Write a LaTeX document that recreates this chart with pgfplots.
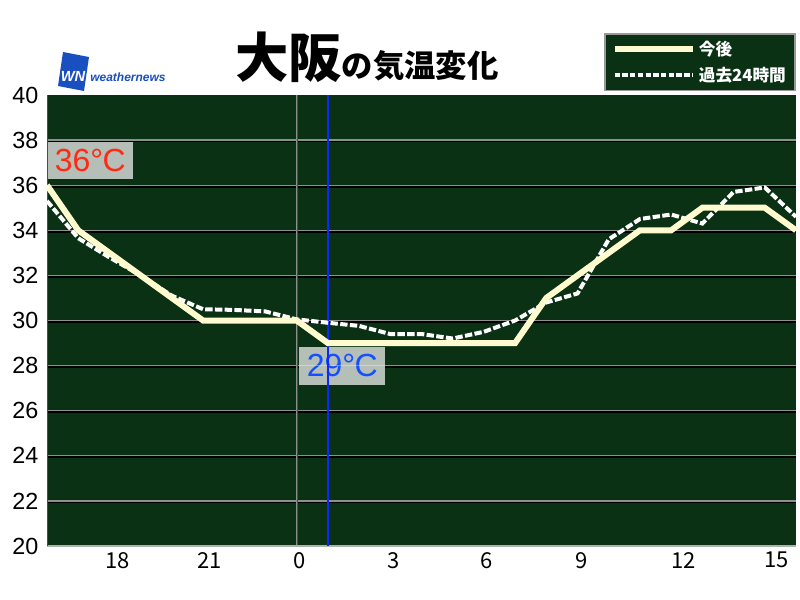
\documentclass[border=0pt]{standalone}
\usepackage{fontspec}
\setmainfont{Liberation Sans}
\newfontfamily\jp{Noto Sans CJK JP}
\usepackage{pgfplots}
\pgfplotsset{compat=1.18}
\definecolor{bggreen}{HTML}{0B3115}
\definecolor{cream}{HTML}{FFFBCF}
\definecolor{boxgray}{HTML}{B5BFB8}
\definecolor{lblred}{HTML}{FF2A14}
\definecolor{lblblue}{HTML}{1450FF}
\definecolor{wnblue}{HTML}{1A4FC0}
\definecolor{gridgray}{HTML}{8C918C}
\definecolor{nowblue}{HTML}{0A28FF}
\begin{document}
\begin{tikzpicture}
\useasboundingbox (-35.25pt,-40.5pt) rectangle ++(600pt,450pt);
\begin{axis}[scale only axis,
  width=561.75pt, height=338.25pt,
  xmin=-8, xmax=16, ymin=20, ymax=40,
  axis background/.style={fill=bggreen},
  axis line style={draw=none},
  xtick={-5.725,-2.78,0.106,3.12,6.10,9.14,12.41,15.39},
  xticklabels={18,21,0,3,6,9,12,15},
  ytick={20,22,...,40},
  major tick length=0pt,
  /pgf/number format/assume math mode=true,
  yticklabel style={font=\fontsize{17.5}{17.5}\selectfont, xshift=-3pt},
  xticklabel style={font=\jp\fontsize{16.5}{16.5}\selectfont, yshift=-1pt},
  clip=false,
  legend cell align=left,
  legend image code/.code={\draw[#1] (0pt,0pt) -- (59pt,0pt);},
  legend style={at={(1.0,1.1375)}, anchor=north east, fill=bggreen, draw=gray!80,
    line width=1.2pt, text=white, font=\jp\bfseries\fontsize{12.5}{12.5}\selectfont,
    row sep=3pt, inner xsep=5pt, inner ysep=3.5pt},
]
\pgfplotsinvokeforeach{22,24,26,28,30,32,34,36,38}{
  \draw[black, line width=1.3pt] ([yshift=-1.1pt]axis cs:-8,#1) -- ([yshift=-1.1pt]axis cs:16,#1);
  \draw[gridgray, line width=1pt] (axis cs:-8,#1) -- (axis cs:16,#1);
}
\draw[black!70, line width=0.8pt] ([xshift=0.9pt]axis cs:0,20) -- ([xshift=0.9pt]axis cs:0,40);
\draw[gridgray, line width=1pt] (axis cs:0,20) -- (axis cs:0,40);
\draw[gridgray!70, line width=1pt] (axis cs:-8,20) -- (axis cs:16,20);
% value label boxes
\node[anchor=south west, fill=boxgray, inner sep=0pt, minimum width=64.5pt, minimum height=27.75pt,
  text=lblred, font=\fontsize{24}{24}\selectfont] at (axis cs:-8,36.27) {36°\kern-0.5ptC};
\node[anchor=south west, fill=boxgray, inner sep=0pt, minimum width=64.5pt, minimum height=28.5pt,
  text=lblblue, font=\fontsize{24}{24}\selectfont] at (axis cs:0.074,27.14) {29°\kern-0.5ptC};
\draw[white, opacity=0.35, line width=0.8pt] (axis cs:0.074,28) -- (axis cs:2.83,28);
\draw[red, line width=0.6pt] (axis cs:-8,20) -- (axis cs:-8,40);
\draw[nowblue, line width=1.2pt] (axis cs:1,20) -- (axis cs:1,40);

\addlegendimage{cream, line width=4.5pt}
\addlegendentry{今後}
\addlegendimage{white, line width=2.6pt, dash pattern=on 4pt off 1.8pt}
\addlegendentry{過去24時間}

\addplot[white, line width=3pt, dash pattern=on 5.5pt off 1.8pt, forget plot] coordinates {
(-8,35.3) (-7,33.65) (-6,32.8) (-5,32.0) (-4,31.1) (-3,30.5) (-2,30.47) (-1,30.4)
(0,30.05) (1,29.9) (2,29.76) (3,29.4) (4,29.4) (5,29.2) (6,29.5) (7,30.0)
(8,30.8) (9,31.2) (10,33.6) (11,34.5) (12,34.7) (13,34.3) (14,35.7) (15,35.9) (16,34.6)};
\addplot[cream, line width=4.5pt, forget plot] coordinates {
(-8,36) (-7,34) (-6,33) (-5,32) (-4,31) (-3,30) (-2,30) (-1,30) (0,30)
(1,29) (2,29) (3,29) (4,29) (5,29) (6,29) (7,29) (8,31) (9,32) (10,33)
(11,34) (12,34) (13,35) (14,35) (15,35) (16,34)};
\end{axis}
\begin{scope}[shift={(-35.25pt,-40.5pt)}, x=0.75pt, y=0.75pt]
% title
\node[anchor=base west, inner sep=0pt] at (235,522)
  {\jp\bfseries\fontsize{40}{40}\selectfont 大阪\fontsize{23.5}{23.5}\selectfont の気温変化};
% logo
\fill[wnblue] (58,514) -- (84,509) -- (89,543) -- (63,548) -- cycle;
\node[text=white, font=\bfseries\itshape\fontsize{11}{11}\selectfont, inner sep=0pt] at (73,524) {WN};
\node[anchor=west, text=wnblue, font=\bfseries\itshape\fontsize{9}{9}\selectfont, inner sep=0pt] at (90,523) {weathernews};
\end{scope}
\end{tikzpicture}
\end{document}
